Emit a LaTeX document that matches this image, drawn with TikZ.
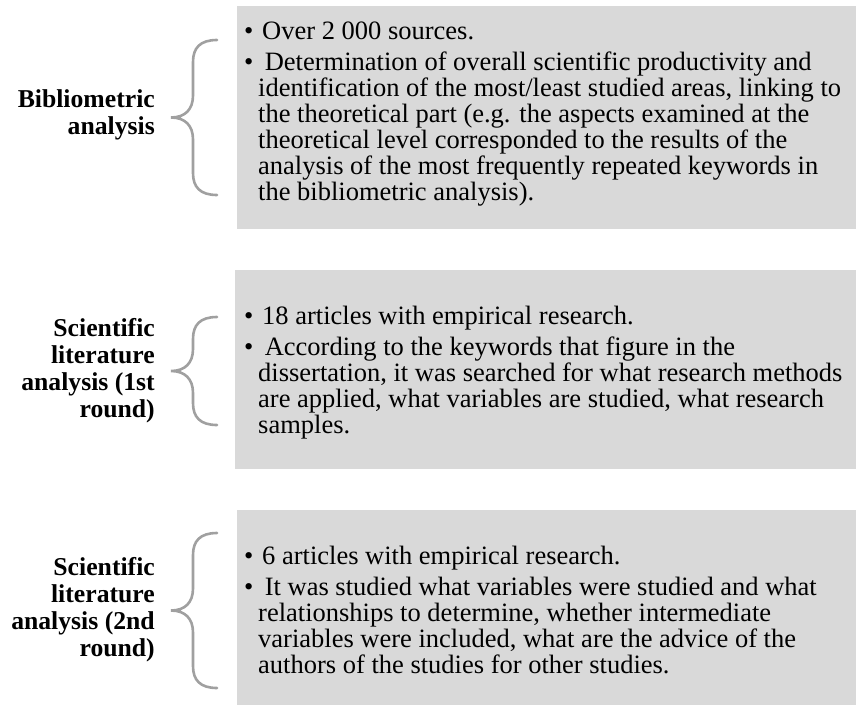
\documentclass[tikz,border=0pt]{standalone}
\usepackage{fontspec}
\setmainfont{Liberation Serif}
\definecolor{boxgray}{HTML}{D9D9D9}
\definecolor{bracegray}{HTML}{A0A0A0}
\tikzset{
  panel/.style={fill=boxgray, draw=none, inner sep=0pt, anchor=north west},
  stagelabel/.style={anchor=east, align=right, inner sep=0pt,
    font=\fontsize{25.7}{27}\selectfont\bfseries},
  itemtext/.style={anchor=west, align=left, inner sep=0pt,
    font=\fontsize{26.5}{26}\selectfont},
  bracket/.style={draw=bracegray, line width=2.6pt, line cap=round},
  pics/curlybrace/.style={code={
    \draw[bracket] (24,{-#1}) .. controls (7,{-#1}) and (0,{-#1+8}) .. (0,{-#1+22})
      -- (0,-22) .. controls (0,-8) and (-8,0) .. (-22,0)
      .. controls (-8,0) and (0,8) .. (0,22)
      -- (0,{#1-22}) .. controls (0,{#1-8}) and (7,{#1}) .. (24,{#1});
  }},
}
\newcommand{\bulletmark}{\makebox[14pt][l]{\textbullet}}
\newcommand{\leadmark}{\makebox[18pt][l]{\textbullet}}
\newcommand{\contline}{\hspace*{14pt}}

\begin{document}
\begin{tikzpicture}[x=1pt,y=-1pt]
\useasboundingbox (0,0) rectangle (856,705);

% grey panels
\node[panel, minimum width=619pt, minimum height=223pt] (box1) at (237,6) {};
\node[panel, minimum width=621pt, minimum height=199pt] (box2) at (235,270) {};
\node[panel, minimum width=619pt, minimum height=195pt] (box3) at (237,510) {};

% braces
\pic at (193,117.5) {curlybrace=77.5};
\pic at (193,371) {curlybrace=54};
\pic at (193,610.5) {curlybrace=77.5};

% stage labels
\node[stagelabel] (lab1) at (155,115) {Bibliometric\\analysis};
\node[stagelabel] (lab2) at (155,371) {Scientific\\literature\\analysis (1st\\round)};
\node[stagelabel] (lab3) at (155,610) {Scientific\\literature\\analysis (2nd\\round)};

% panel texts
\node[itemtext] (txt1) at (244,114) {%
\leadmark Over 2 000 sources.\\[5pt]
\bulletmark\ Determination of overall scientific productivity and\\
\contline identification of the most/least studied areas, linking to\\
\contline the theoretical part (e.g. the aspects examined at the\\
\contline theoretical level corresponded to the results of the\\
\contline analysis of the most frequently repeated keywords in\\
\contline the bibliometric analysis).};

\node[itemtext] (txt2) at (244,373) {%
\leadmark 18 articles with empirical research.\\[5pt]
\bulletmark\ According to the keywords that figure in the\\
\contline dissertation, it was searched for what research methods\\
\contline are applied, what variables are studied, what research\\
\contline samples.};

\node[itemtext] (txt3) at (244,610) {%
\leadmark 6 articles with empirical research.\\[5pt]
\bulletmark\ It was studied what variables were studied and what\\
\contline relationships to determine, whether intermediate\\
\contline variables were included, what are the advice of the\\
\contline authors of the studies for other studies.};
\end{tikzpicture}
\end{document}
